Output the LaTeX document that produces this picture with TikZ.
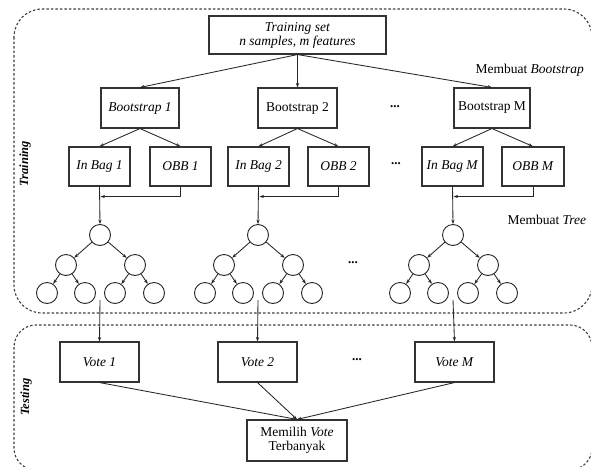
\documentclass[tikz,border=0pt]{standalone}
\usepackage{fontspec}
\setmainfont{Liberation Serif}
\usetikzlibrary{arrows.meta,calc}
\begin{document}
\begin{tikzpicture}[x=1pt,y=-1pt,
  box/.style={draw=black!80, line width=1.1pt, inner sep=0pt, minimum height=39pt, align=center, font=\fontsize{13.5}{15}\selectfont},
  nd/.style={draw=black!85, line width=0.9pt, circle, minimum size=21pt, inner sep=0pt},
  arr/.style={draw=black!85, line width=0.85pt, -{Stealth[length=4.5pt,width=3.2pt]}},
  region/.style={draw=black!75, line width=1.1pt, dash pattern=on 2.5pt off 2pt, rounded corners=28pt},
  dots/.style={font=\fontsize{13}{15}\selectfont\bfseries},
  side/.style={font=\fontsize{13.5}{15}\selectfont, anchor=west},
  vlab/.style={font=\fontsize{12.5}{14}\selectfont\bfseries\itshape, rotate=90}]
\useasboundingbox (0,0) rectangle (591,466);
\fill[white] (0,0) rectangle (591,466);
% regions
\draw[region] (14,9) rectangle (592,313);
\draw[region, rounded corners=22pt] (14,325) rectangle (592,470);
\node[vlab] (ltrain) at (25,164) {Training};
\node[vlab] (ltest) at (26,397) {Testing};
% top
\node[box, minimum width=177pt, minimum height=38pt] (ts) at (297.5,35) {\textit{Training set}\\[-1pt]\textit{n samples, m features}};
\node[box, minimum width=78pt, minimum height=40pt] (b1) at (140,108) {\textit{Bootstrap 1}};
\node[box, minimum width=79pt, minimum height=40pt] (b2) at (297.5,108) {Bootstrap 2};
\node[box, minimum width=76pt, minimum height=40pt] (bM) at (492,108) {Bootstrap M};
\node[dots] (d1) at (395,107) {...};
\node[side] (mb) at (472,70) {Membuat \textit{Bootstrap}};
\draw[arr] (ts.south) -- (b1.north);
\draw[arr] (ts.south) -- (b2.north);
\draw[arr] (ts.south) -- (bM.north);
% bags
\node[box, minimum width=61pt] (ib1) at (99.5,166.5) {\textit{In Bag 1}};
\node[box, minimum width=61pt] (ob1) at (180.5,166.5) {\textit{OBB 1}};
\node[box, minimum width=61pt] (ib2) at (258.5,166.5) {\textit{In Bag 2}};
\node[box, minimum width=61pt] (ob2) at (338.5,166.5) {\textit{OBB 2}};
\node[box, minimum width=61pt] (ibM) at (452.5,166.5) {\textit{In Bag M}};
\node[box, minimum width=62pt] (obM) at (533,166.5) {\textit{OBB M}};
\node[dots] (d2) at (396,164) {...};
\foreach \b/\i/\o in {b1/ib1/ob1, b2/ib2/ob2, bM/ibM/obM}{
  \draw[arr] (\b.south) -- (\i.north);
  \draw[arr] (\b.south) -- (\o.north);
  \coordinate (m\i) at ([yshift=-10pt]\i.south);
  \draw[arr] (\o.south) |- ([xshift=1pt]m\i);
}
\node[side] (mt) at (504,220) {Membuat \textit{Tree}};
% trees
\foreach \t/\x/\ib in {1/100/ib1, 2/258/ib2, 3/453/ibM}{
  \node[nd] (r\t) at (\x,235) {};
  \node[nd] (a\t) at (\x-34,265) {};
  \node[nd] (b\t) at (\x+35,265) {};
  \node[nd] (aa\t) at (\x-53,293) {};
  \node[nd] (ab\t) at (\x-15,293) {};
  \node[nd] (ba\t) at (\x+15,293) {};
  \node[nd] (bb\t) at (\x+54,293) {};
  \draw[arr] (r\t) -- (a\t);
  \draw[arr] (r\t) -- (b\t);
  \draw[arr] (a\t) -- (aa\t);
  \draw[arr] (a\t) -- (ab\t);
  \draw[arr] (b\t) -- (ba\t);
  \draw[arr] (b\t) -- (bb\t);
  \draw[arr] (\ib.south) -- (r\t.north);
  \coordinate (e\t) at (\x,300);
}
\node[dots] (d3) at (353,263) {...};
% votes
\node[box, minimum width=79pt, minimum height=40pt] (v1) at (99.5,362) {\textit{Vote 1}};
\node[box, minimum width=79pt, minimum height=40pt] (v2) at (257.5,362) {\textit{Vote 2}};
\node[box, minimum width=79pt, minimum height=40pt] (vM) at (454.5,362) {\textit{Vote M}};
\node[dots] (d4) at (357,360) {...};
\draw[arr] (e1) -- (v1.north);
\draw[arr] (e2) -- (v2.north);
\draw[arr] (e3) -- (vM.north);
\node[box, minimum width=100pt, minimum height=41pt] (mv) at (297,440.5) {Memilih \textit{Vote}\\[-1pt]Terbanyak};
\draw[arr] (v1.south) -- (mv.north);
\draw[arr] (v2.south) -- (mv.north);
\draw[arr] (vM.south) -- (mv.north);
\end{tikzpicture}
\end{document}
